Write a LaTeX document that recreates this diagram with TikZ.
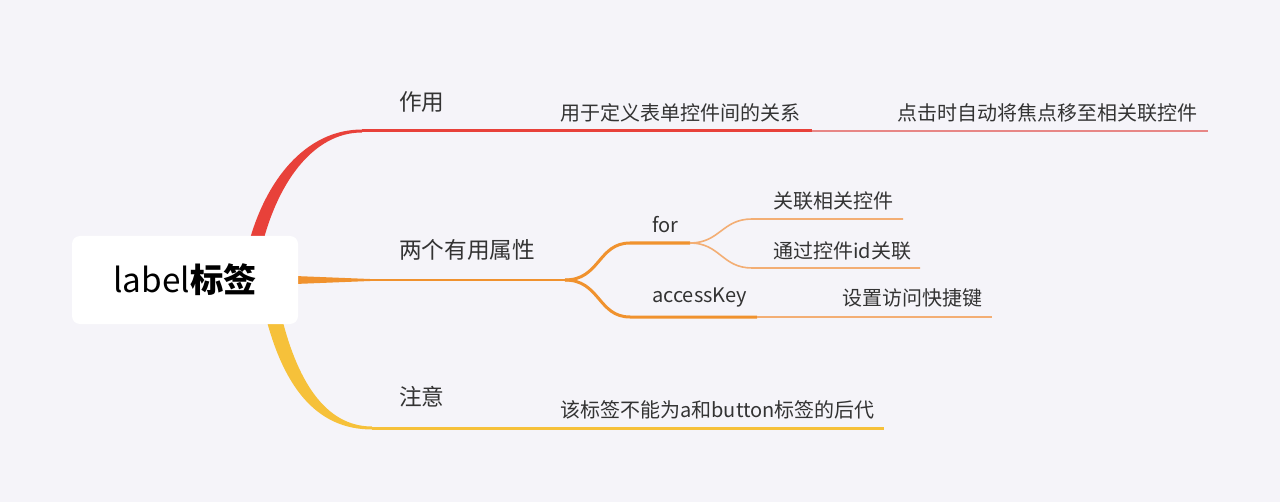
\documentclass[tikz,border=0pt]{standalone}
\usepackage{fontspec}
\setmainfont{Noto Sans CJK SC}
\definecolor{bgc}{HTML}{F5F4F9}
\definecolor{redc}{HTML}{E8413A}
\definecolor{redl}{HTML}{E78686}
\definecolor{orc}{HTML}{F0922E}
\definecolor{orl}{HTML}{F3AE74}
\definecolor{yec}{HTML}{F6C13A}
\definecolor{txt}{HTML}{333333}
\begin{document}
\begin{tikzpicture}[x=0.75pt,y=-0.75pt,
  lvone/.style={anchor=west,inner sep=0pt,text=txt,font=\fontsize{17}{20}\selectfont},
  lvtwo/.style={anchor=west,inner sep=0pt,text=txt,font=\fontsize{15}{18}\selectfont},
  thick line/.style={line width=2.25pt},
  thin line/.style={line width=1.2pt}]
\fill[bgc] (0,0) rectangle (1280,502);
\useasboundingbox (0,0) rectangle (1280,502);
% junction coordinates
\coordinate (rA) at (362,131);
\coordinate (rB) at (812,131);
\coordinate (rC) at (1208,131);
\coordinate (oA) at (370,280);
\coordinate (oS) at (565,280);
\coordinate (fA) at (690,243);
\coordinate (aA) at (757,317);
\coordinate (f1e) at (903,219);
\coordinate (f2e) at (920,268);
\coordinate (a1e) at (992,317);
\coordinate (yA) at (372,428);
\coordinate (yB) at (884,428);
% red branch
\fill[redc] (247,250) .. controls (264,180) and (306,129.5) .. (362,129.5) -- (362,132.5) .. controls (312,132.5) and (276,185) .. (261,250) -- cycle;
\draw[redc,thick line] (rA) -- (rB);
\draw[redl,thin line] (rB) -- (rC);
% orange branch
\fill[orc] (295,276) -- (370,279) -- (370,281) -- (295,284) -- cycle;
\draw[orc,line width=1.5pt] (oA) -- (oS);
\draw[orc,thick line] (oS) .. controls (600,280) and (598,243) .. (630,243) -- (fA);
\draw[orc,thick line] (oS) .. controls (600,280) and (598,317) .. (630,317) -- (aA);
\draw[orl,thin line] (fA) .. controls (720,243) and (722,219) .. (752,219) -- (f1e);
\draw[orl,thin line] (fA) .. controls (720,243) and (722,268) .. (752,268) -- (f2e);
\draw[orl,thin line] (aA) -- (a1e);
% yellow branch
\fill[yec] (280,310) .. controls (296,380) and (325,426.5) .. (372,426.5) -- (372,429.5) .. controls (315,429.5) and (282,385) .. (264,310) -- cycle;
\draw[yec,thick line] (yA) -- (yB);
% root
\node[fill=white,rounded corners=6pt,minimum width=169.5pt,minimum height=66pt,inner sep=0pt,
  font=\fontsize{25}{30}\selectfont,text=black] (root) at (185,280) {label\textbf{标签}};
% texts
\node[lvone] (t1) at (399,102) {作用};
\node[lvone] (t2) at (399,250) {两个有用属性};
\node[lvone] (t3) at (399,397) {注意};
\node[lvtwo] (r1) at (560,113) {用于定义表单控件间的关系};
\node[lvtwo] (r2) at (897,113) {点击时自动将焦点移至相关联控件};
\node[lvtwo] (for) at (652,225) {for};
\node[lvtwo] (ak) at (652,298) {accessKey};
\node[lvtwo] (f1) at (773,201) {关联相关控件};
\node[lvtwo] (f2) at (773,251) {通过控件id关联};
\node[lvtwo] (a1) at (842,298) {设置访问快捷键};
\node[lvtwo] (y1) at (560,410) {该标签不能为a和button标签的后代};
\end{tikzpicture}
\end{document}
